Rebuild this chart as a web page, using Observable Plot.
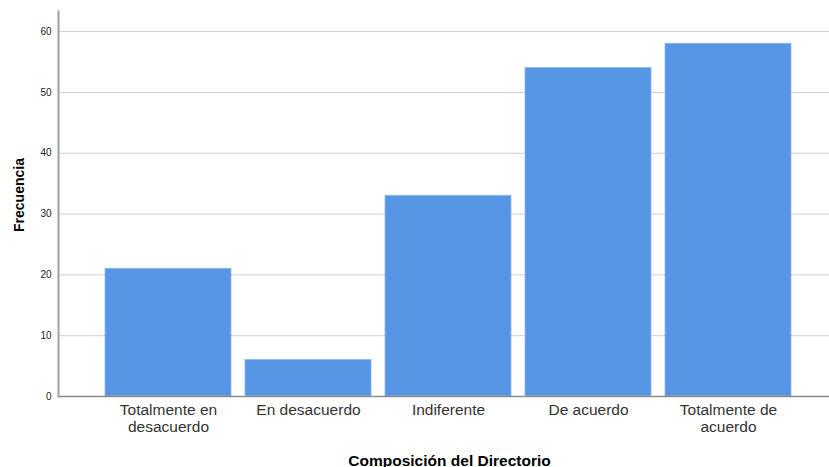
<!DOCTYPE html>
<html>
<head>
<meta charset="utf-8">
<script src="https://cdn.jsdelivr.net/npm/d3@7"></script>
<script src="https://cdn.jsdelivr.net/npm/@observablehq/plot@0.6"></script>
<style>
  html, body { margin: 0; padding: 0; background: #fff; }
  #chart { width: 829px; height: 467px; overflow: hidden; }
  svg { font-family: "Liberation Sans", Arial, sans-serif; }
</style>
</head>
<body>
<div id="chart"></div>
<script>
const categories = ["Totalmente en desacuerdo", "En desacuerdo", "Indiferente", "De acuerdo", "Totalmente de acuerdo"];
const tickLabels = ["Totalmente en\ndesacuerdo", "En desacuerdo", "Indiferente", "De acuerdo", "Totalmente de\nacuerdo"];
const frecuencia = [21, 6, 33, 54, 58];
const yTicks = [0, 10, 20, 30, 40, 50, 60];

const data = categories.map((c, i) => ({cat: c, value: frecuencia[i]}));
const labelOf = new Map(categories.map((c, i) => [c, tickLabels[i]]));

const chart = Plot.plot({
  width: 829,
  height: 467,
  marginLeft: 58,
  marginRight: 0,
  marginTop: 11,
  marginBottom: 71,
  style: {fontFamily: "'Liberation Sans', Arial, sans-serif", background: "#fff"},
  x: {domain: categories, range: [96.75, 799.25], paddingInner: 0.1, paddingOuter: 0.05},
  y: {domain: [0, 63.3]},
  marks: [
    Plot.gridY(yTicks, {stroke: "#d0d0d0", strokeOpacity: 1, strokeWidth: 1}),
    Plot.barY(data, {x: "cat", y: "value", fill: "#5595e4", stroke: "#8fb9ee", strokeWidth: 0.8}),
    Plot.ruleY([0], {stroke: "#8c8c8c", strokeWidth: 1.5}),
    Plot.frame({anchor: "left", stroke: "#a0a0a0", strokeWidth: 2}),
    Plot.axisY(yTicks, {tickSize: 0, tickPadding: 7, fontSize: 10, fill: "#222", label: null}),
    Plot.axisX({tickSize: 0, tickPadding: 7, fontSize: 15.5, fill: "#333", lineHeight: 1.08,
      tickFormat: d => labelOf.get(d), label: null}),
    Plot.text(["Frecuencia"], {frameAnchor: "left", textAnchor: "middle", dx: -39, dy: -9, rotate: -90, fontSize: 14, fontWeight: "bold", fill: "#000"}),
    Plot.text(["Composición del Directorio"], {frameAnchor: "bottom", dx: 5.5, dy: 69, fontSize: 15.5, fontWeight: "bold", fill: "#000"})
  ]
});
document.getElementById("chart").appendChild(chart);
</script>
</body>
</html>
